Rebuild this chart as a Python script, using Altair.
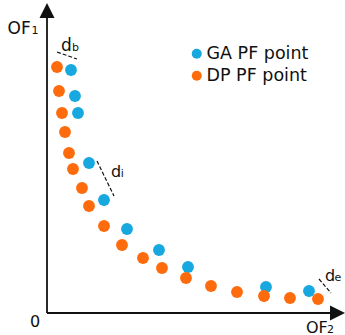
import altair as alt
import pandas as pd

# Values (data units: origin at the axes' corner)
ga_x = [24, 28, 31, 42, 57, 80, 112, 141, 219, 262]
ga_y = [243, 217, 200, 150, 113, 84, 63, 46, 26, 22]
dp_x = [10, 12, 15, 18, 22, 26, 35, 42, 57, 75, 96, 115, 139, 164, 190, 217, 243, 271]
dp_y = [246, 222, 200, 181, 160, 144, 125, 107, 87, 68, 55, 45, 35, 27, 21, 17, 15, 14]
series = ["GA PF point", "DP PF point"]
colors = ["#16a8de", "#fd6b0c"]

pts = pd.DataFrame(
    {"x": ga_x + dp_x, "y": ga_y + dp_y,
     "s": [series[0]] * len(ga_x) + [series[1]] * len(dp_x)}
)

X = alt.Scale(domain=[-47, 298], nice=False, zero=False)
Y = alt.Scale(domain=[-22, 313], nice=False, zero=False)

def xe(f="x"):
    return alt.X(f"{f}:Q", scale=X, axis=None)

def ye(f="y"):
    return alt.Y(f"{f}:Q", scale=Y, axis=None)

# axes
axes = pd.DataFrame({"x": [0, 0], "y": [0, 0], "x2": [0, 286], "y2": [296, 0]})
axis_rules = alt.Chart(axes).mark_rule(color="#111", strokeWidth=1.8).encode(
    x=xe(), y=ye(), x2="x2:Q", y2="y2:Q")

arrows = pd.DataFrame({"x": [0, 290.5], "y": [302.5, 0],
                       "shape": ["M0,-1L1,1L-1,1Z", "M1,0L-1,-1L-1,1Z"]})
arrow_marks = alt.Chart(arrows).mark_point(filled=True, size=225, color="#111", opacity=1).encode(
    x=xe(), y=ye(), shape=alt.Shape("shape:N", scale=None))

# dashed distance markers
dash = pd.DataFrame({"x": [10, 50, 272], "y": [261, 152, 34],
                     "x2": [30, 67, 284], "y2": [254, 117, 20]})
dash_marks = alt.Chart(dash).mark_rule(color="#111", strokeWidth=1.2, strokeDash=[4, 2]).encode(
    x=xe(), y=ye(), x2="x2:Q", y2="y2:Q")

# points
points = alt.Chart(pts).mark_circle(size=140, opacity=1).encode(
    x=xe(), y=ye(),
    color=alt.Color("s:N", scale=alt.Scale(domain=series, range=colors),
                    legend=alt.Legend(title=None, orient="none", legendX=188, legendY=45,
                                      symbolType="circle", symbolSize=100,
                                      labelFontSize=17.5, labelFont="DejaVu Sans",
                                      labelColor="#111", rowPadding=3, labelOffset=1)),
    order=alt.Order("o:Q"),
).transform_calculate(o="datum.s == 'GA PF point' ? 0 : 1")

# labels
big = pd.DataFrame({
    "x": [-39.5, 259, -12, 14, 64, 278],
    "y": [279, -19.5, -14, 262.5, 136, 32],
    "t": ["OF", "OF", "0", "d", "d", "d"],
    "sz": [17, 16, 16, 17, 16, 16],
    "al": ["left", "left", "center", "left", "left", "left"],
})
small = pd.DataFrame({
    "x": [-15.5, 280, 25, 73.7, 287.4],
    "y": [279, -19.5, 262.5, 136, 32],
    "t": ["1", "2", "b", "i", "e"],
})
big_l = alt.Chart(big[big.al == "left"]).mark_text(
    font="DejaVu Sans", fontSize=16, color="#111", align="left", baseline="alphabetic").encode(
    x=xe(), y=ye(), text="t:N", size=alt.Size("sz:Q", scale=None))
big_c = alt.Chart(big[big.al == "center"]).mark_text(
    font="DejaVu Sans", fontSize=16, color="#111", align="center", baseline="alphabetic").encode(
    x=xe(), y=ye(), text="t:N", size=alt.Size("sz:Q", scale=None))
small_l = alt.Chart(small).mark_text(
    font="DejaVu Sans", fontSize=11, color="#111", align="left", baseline="alphabetic").encode(
    x=xe(), y=ye(), text="t:N")

chart = alt.layer(axis_rules, arrow_marks, dash_marks, points, big_l, big_c, small_l).properties(
    width=345, height=335, padding=0, autosize=alt.AutoSizeParams(type="none"),
    background="white",
).configure_view(stroke=None)

chart.save("out.html", embed_options={"renderer": "svg", "actions": False})
